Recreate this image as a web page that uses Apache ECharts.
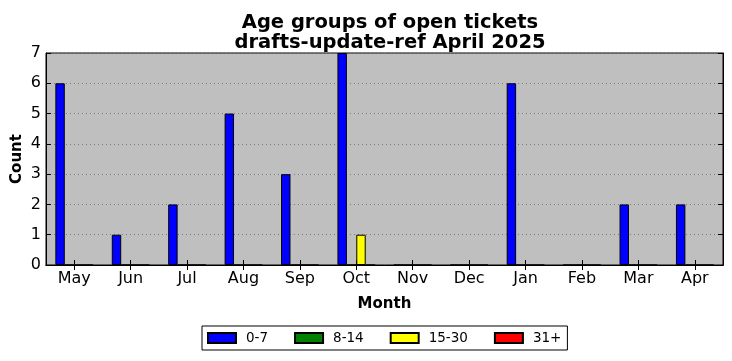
<!DOCTYPE html>
<html><head><meta charset="utf-8">
<script src="https://cdn.jsdelivr.net/npm/echarts@6/dist/echarts.min.js"></script>
<style>html,body{margin:0;padding:0;background:#fff}#c{width:732px;height:361px}</style>
</head><body><div id="c"></div>
<script>
const months = ['May','Jun','Jul','Aug','Sep','Oct','Nov','Dec','Jan','Feb','Mar','Apr'];
const age0_7 = [6,1,2,5,3,7,0,0,6,0,2,2];
const age8_14 = [0,0,0,0,0,0,0,0,0,0,0,0];
const age15_30 = [0,0,0,0,0,1,0,0,0,0,0,0];
const age31p = [0,0,0,0,0,0,0,0,0,0,0,0];
const seriesNames = ['0-7','8-14','15-30','31+'];
const seriesColors = ['#0000ff','#008000','#ffff00','#ff0000'];
const yTicks = [0,1,2,3,4,5,6,7];

const F = 'DejaVu Sans';
const chart = echarts.init(document.getElementById('c'), null, {renderer:'canvas'});
const allData = [age0_7, age8_14, age15_30, age31p];
chart.setOption({
  backgroundColor:'#ffffff',
  animation:false,
  textStyle:{fontFamily:F},
  title:{
    text:'Age groups of open tickets\ndrafts-update-ref April 2025',
    left:385, top:8, textAlign:'center',
    textStyle:{fontFamily:F, fontWeight:'bold', fontSize:19.5, color:'#000', lineHeight:20}
  },
  legend:{
    data:seriesNames.map(n=>({name:n, icon:'rect'})),
    left:202, top:326,
    orient:'horizontal',
    itemWidth:28, itemHeight:10, itemGap:26,
    padding:[5,6,5,5],
    borderColor:'#000', borderWidth:1, borderRadius:0,
    textStyle:{fontFamily:F, fontSize:13.5, color:'#000', padding:[0,0,0,5]}
  },
  grid:{left:46, right:9, top:53, bottom:96, outerBoundsMode:'none', containLabel:false, show:true, backgroundColor:'#bfbfbf', borderColor:'#000', borderWidth:1},
  xAxis:[{
    type:'category', data:months, boundaryGap:true,
    axisLine:{show:true, lineStyle:{color:'#000', width:1}},
    axisTick:{show:true, inside:true, length:5, alignWithLabel:true, lineStyle:{color:'#000'}},
    axisLabel:{fontFamily:F, fontSize:16, color:'#000', margin:6},
    splitLine:{show:false},
    name:'Month', nameLocation:'middle', nameGap:32, nameMoveOverlap:false,
    nameTextStyle:{fontFamily:F, fontWeight:'bold', fontSize:15, color:'#000'}
  },{
    type:'category', data:months, boundaryGap:true, position:'top',
    axisLine:{show:true, lineStyle:{color:'#000', width:1}},
    axisTick:{show:true, inside:true, length:5, alignWithLabel:true, lineStyle:{color:'#000'}},
    axisLabel:{show:false}, splitLine:{show:false}
  }],
  yAxis:[{
    type:'value', min:yTicks[0], max:yTicks[yTicks.length-1], interval:1,
    axisLine:{show:true, lineStyle:{color:'#000', width:1}},
    axisTick:{show:true, inside:true, length:5, lineStyle:{color:'#000'}},
    axisLabel:{fontFamily:F, fontSize:16, color:'#000', margin:5},
    splitLine:{show:true, lineStyle:{color:'#7a7a7a', width:1, type:[1,3]}},
    name:'Count', nameLocation:'middle', nameGap:21, nameMoveOverlap:false,
    nameTextStyle:{fontFamily:F, fontWeight:'bold', fontSize:15, color:'#000'}
  },{
    type:'value', min:yTicks[0], max:yTicks[yTicks.length-1], interval:1, position:'right',
    axisLine:{show:true, lineStyle:{color:'#000', width:1}},
    axisTick:{show:true, inside:true, length:5, lineStyle:{color:'#000'}},
    axisLabel:{show:false}, splitLine:{show:false}
  }],
  series: seriesNames.map((n,i)=>({
    name:n, type:'bar', data:allData[i], xAxisIndex:0, yAxisIndex:0,
    barWidth:'16.7%', barGap:'0%',
    itemStyle:{color:seriesColors[i], borderColor:'#000', borderWidth:1, borderRadius:0}
  }))
});
</script></body></html>
